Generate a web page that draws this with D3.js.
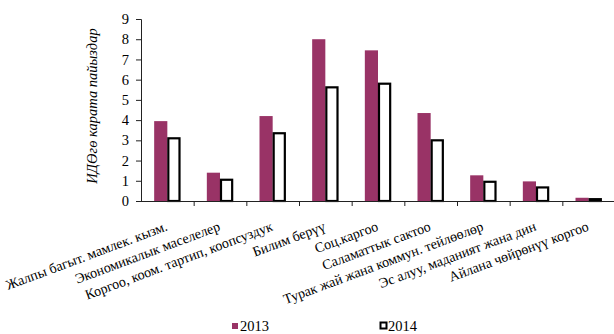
<!DOCTYPE html>
<html>
<head>
<meta charset="utf-8">
<script src="https://cdn.jsdelivr.net/npm/d3@7"></script>
<style>
body{margin:0;background:#fff;}
svg{display:block;}
</style>
</head>
<body>
<svg id="chart" width="614" height="334" font-family="Liberation Serif"></svg>
<script>
const categories = [
  "Жалпы багыт. мамлек. кызм.",
  "Экономикалык маселелер",
  "Коргоо, коом. тартип,  коопсуздук",
  "Билим берүү",
  "Соц.каргоо",
  "Саламаттык сактоо",
  "Турак жай  жана коммун. тейлөөлөр",
  "Эс алуу, маданият жана дин",
  "Айлана чөйрөнүү коргоо"
];
const values2013 = [3.95, 1.4, 4.2, 8.0, 7.45, 4.35, 1.27, 0.97, 0.16];
const values2014 = [3.15, 1.1, 3.4, 5.67, 5.85, 3.05, 1.0, 0.72, 0.14];
const seriesNames = ["2013", "2014"];
const yTicks = [0,1,2,3,4,5,6,7,8,9];
const yLabel = "ИДӨгө карата пайыздар";

const FONT = "Liberation Serif";
const svg = d3.select("#chart");
const mLeft = 141, mRight = 615, mTop = 19, mBottom = 201;

const x = d3.scaleBand().domain(categories).range([mLeft, mRight]).paddingInner(0).paddingOuter(0);
const y = d3.scaleLinear().domain([0, 9]).range([mBottom, mTop]);
const bw = x.bandwidth() * 0.25;

// bars 2013
svg.append("g").selectAll("rect").data(categories).join("rect")
  .attr("x", d => x(d) + x.bandwidth()/2 - bw)
  .attr("y", (d,i) => y(values2013[i]))
  .attr("width", bw)
  .attr("height", (d,i) => y(0) - y(values2013[i]))
  .attr("fill", "#993366");

// bars 2014
svg.append("g").selectAll("rect").data(categories).join("rect")
  .attr("x", d => x(d) + x.bandwidth()/2 + 1)
  .attr("y", (d,i) => y(values2014[i]) + 1)
  .attr("width", bw - 2)
  .attr("height", (d,i) => Math.max(0, y(0) - y(values2014[i]) - 1))
  .attr("fill", "#fff")
  .attr("stroke", "#000")
  .attr("stroke-width", 2.2);

// y axis
const yAxis = svg.append("g").attr("transform", `translate(${mLeft},0)`)
  .call(d3.axisLeft(y).tickValues(yTicks).tickSize(5).tickPadding(7).tickFormat(d3.format("d")));
yAxis.attr("font-family", FONT).attr("font-size", 14.5);
yAxis.selectAll("path,line").attr("stroke", "#222");
yAxis.selectAll("text").attr("fill", "#000");

// x axis
const xAxis = svg.append("g").attr("transform", `translate(0,${mBottom})`)
  .call(d3.axisBottom(x).tickSize(0).tickFormat(""));
xAxis.select("path").attr("stroke", "#222").attr("d", `M${mLeft},0.5H${mRight}`);
xAxis.selectAll(".tick").remove();
// tick marks at band boundaries
svg.append("g").selectAll("line").data(categories.slice(1)).join("line")
  .attr("x1", d => x(d) + 0.5).attr("x2", d => x(d) + 0.5)
  .attr("y1", mBottom).attr("y2", mBottom + 5)
  .attr("stroke", "#222");

// category labels
svg.append("g").selectAll("text").data(categories).join("text")
  .attr("transform", d => `translate(${x(d) + x.bandwidth()/2 + 1},${230}) rotate(-20.5)`)
  .attr("text-anchor", "end")
  .attr("font-family", FONT)
  .attr("font-size", 14)
  .text(d => d);

// y label
svg.append("text")
  .attr("transform", "translate(97,106) rotate(-90)")
  .attr("text-anchor", "middle")
  .attr("font-family", FONT)
  .attr("font-size", 14.5)
  .attr("font-style", "italic")
  .text(yLabel);

// legend
const lg = svg.append("g").attr("font-family", FONT);
lg.append("rect").attr("x", 232).attr("y", 323).attr("width", 6).attr("height", 6).attr("fill", "#993366");
lg.append("text").attr("x", 240).attr("y", 331).attr("font-size", 14.5).text(seriesNames[0]);
lg.append("rect").attr("x", 380.5).attr("y", 322.5).attr("width", 6).attr("height", 6).attr("fill", "#fff").attr("stroke", "#000").attr("stroke-width", 2);
lg.append("text").attr("x", 388).attr("y", 331).attr("font-size", 14.5).text(seriesNames[1]);
</script>
</body>
</html>
